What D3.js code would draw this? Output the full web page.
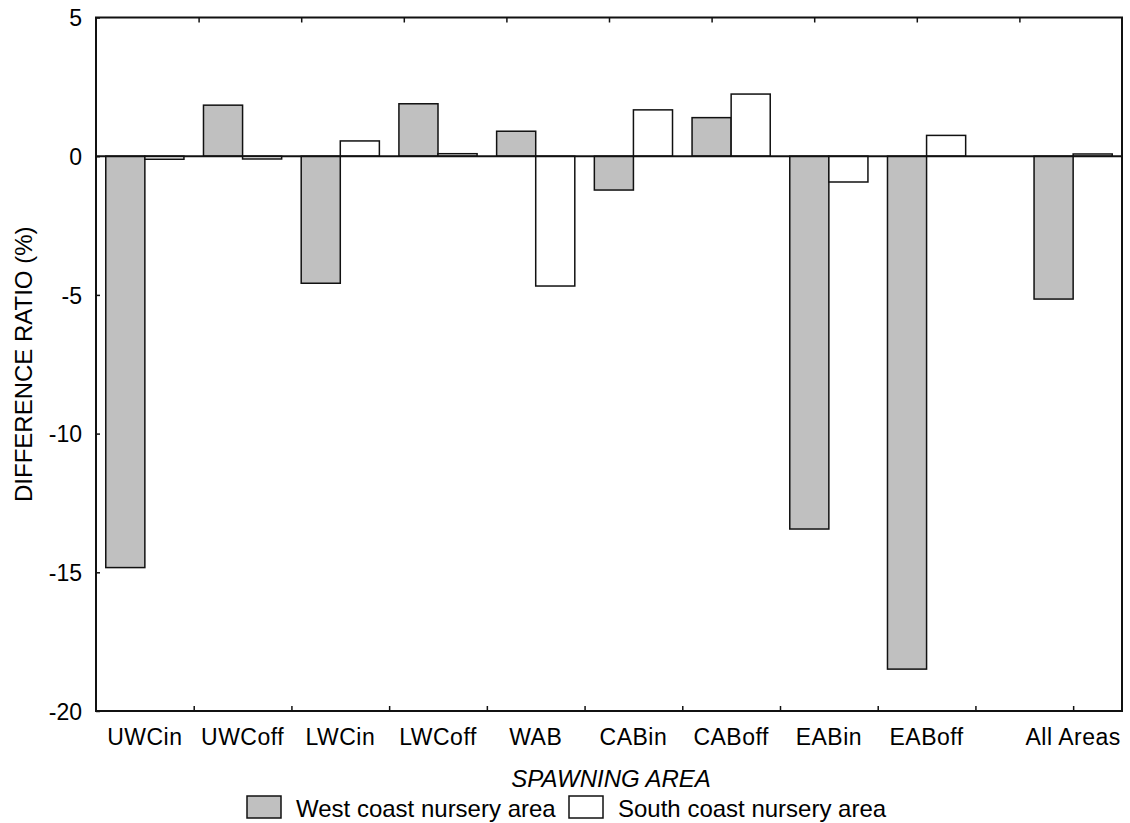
<!DOCTYPE html>
<html>
<head>
<meta charset="utf-8">
<script src="https://cdn.jsdelivr.net/npm/d3@7"></script>
<style>
  body { margin: 0; background: #fff; }
  text { font-family: "Liberation Sans", Arial, sans-serif; fill: #000; }
</style>
</head>
<body>
<script>
"use strict"

// Chart values
var areas = ["UWCin", "UWCoff", "LWCin", "LWCoff", "WAB", "CABin", "CABoff", "EABin", "EABoff", "All Areas"]
var slots = [1, 2, 3, 4, 5, 6, 7, 8, 9, 10.5] // "All Areas" sits apart from the rest
var west = [-14.83, 1.84, -4.58, 1.89, 0.9, -1.22, 1.39, -13.44, -18.49, -5.15]
var south = [-0.11, -0.1, 0.55, 0.09, -4.68, 1.67, 2.24, -0.93, 0.75, 0.08]
var yTicks = [5, 0, -5, -10, -15, -20]
var seriesNames = ["West coast nursery area", "South coast nursery area"]
var seriesFill = ["#c0c0c0", "#ffffff"]

var width = 1130
var height = 823
var margin = { top: 17.5, right: 8, bottom: 112, left: 96 }

var svg = d3.select("body").append("svg")
  .attr("width", width)
  .attr("height", height)

var x = d3.scaleLinear().domain([0.5, 11]).range([margin.left, width - margin.right])
var y = d3.scaleLinear().domain([-20, 5]).range([height - margin.bottom, margin.top])
var barW = 0.4 // in x units

// bars
var rows = areas.map(function(a, i) {
  return { area: a, pos: slots[i], vals: [west[i], south[i]] }
})

rows.forEach(function(r) {
  r.vals.forEach(function(v, k) {
    var x0 = k === 0 ? r.pos - barW : r.pos
    svg.append("rect")
      .attr("x", x(x0))
      .attr("width", x(x0 + barW) - x(x0))
      .attr("y", y(Math.max(0, v)))
      .attr("height", Math.abs(y(v) - y(0)))
      .attr("fill", seriesFill[k])
      .attr("stroke", "#111")
      .attr("stroke-width", 1.5)
  })
})

// zero line
svg.append("line")
  .attr("x1", x(0.5)).attr("x2", x(11))
  .attr("y1", y(0)).attr("y2", y(0))
  .attr("stroke", "#111").attr("stroke-width", 2)

// frame
svg.append("rect")
  .attr("x", x(0.5)).attr("y", y(5))
  .attr("width", x(11) - x(0.5))
  .attr("height", y(-20) - y(5))
  .attr("fill", "none").attr("stroke", "#111").attr("stroke-width", 2)

// y axis (ticks point inward), plain hyphen for minus like the original
var yAxis = d3.axisLeft(y).tickValues(yTicks).tickSize(-4).tickPadding(14)
  .tickFormat(function(d) { return String(d) })
var gy = svg.append("g").attr("transform", "translate(" + x(0.5) + ",0)").call(yAxis)
gy.select(".domain").remove()
gy.selectAll("line").attr("stroke", "#111").attr("stroke-width", 1.5)
gy.selectAll("text").style("font-size", "23px").attr("dy", "0.36em")

// top axis: evenly spaced ticks, no labels
var topTicks = d3.range(1, 10).map(function(i) { return 0.5 + i * 1.05 })
var gt = svg.append("g").attr("transform", "translate(0," + y(5) + ")")
  .call(d3.axisTop(x).tickValues(topTicks).tickSize(-5).tickFormat(""))
gt.select(".domain").remove()
gt.selectAll("line").attr("stroke", "#111").attr("stroke-width", 1.5)

// bottom axis: ticks between groups, labels under groups
var bottomTicks = [1.5, 2.5, 3.5, 4.5, 5.5, 6.5, 7.5, 8.5, 9.5, 10.5]
var gb = svg.append("g").attr("transform", "translate(0," + y(-20) + ")")
  .call(d3.axisBottom(x).tickValues(bottomTicks).tickSize(-5).tickFormat(""))
gb.select(".domain").remove()
gb.selectAll("line").attr("stroke", "#111").attr("stroke-width", 1.5)

svg.append("g").selectAll("text")
  .data(rows)
  .enter().append("text")
  .attr("x", function(d) { return x(d.pos) })
  .attr("y", 745)
  .attr("text-anchor", "middle")
  .style("font-size", "23px")
  .style("letter-spacing", "0.5px")
  .text(function(d) { return d.area })

// axis titles
svg.append("text")
  .attr("transform", "translate(32," + ((y(5) + y(-20)) / 2) + ") rotate(-90)")
  .attr("text-anchor", "middle")
  .style("font-size", "24px")
  .text("DIFFERENCE RATIO (%)")

svg.append("text")
  .attr("x", 611).attr("y", 787)
  .attr("text-anchor", "middle")
  .style("font-size", "24px")
  .style("font-style", "italic")
  .text("SPAWNING AREA")

// legend
var legendX = [247, 569]
seriesNames.forEach(function(name, k) {
  svg.append("rect")
    .attr("x", legendX[k]).attr("y", 796)
    .attr("width", 34).attr("height", 22)
    .attr("fill", seriesFill[k]).attr("stroke", "#111").attr("stroke-width", 1.5)
  svg.append("text")
    .attr("x", legendX[k] + 49).attr("y", 817)
    .style("font-size", "24px")
    .text(name)
})
</script>
</body>
</html>
